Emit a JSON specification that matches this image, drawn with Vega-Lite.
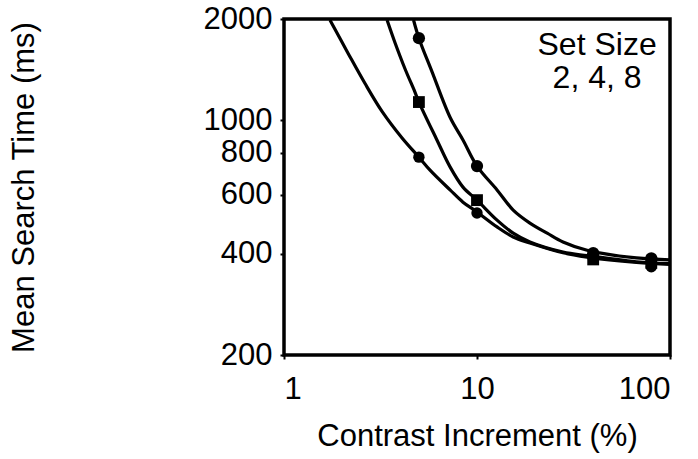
{
  "$schema": "https://vega.github.io/schema/vega-lite/v6.json",
  "autosize": {"type": "none"},
  "padding": {"left": 284, "top": 19, "right": 28, "bottom": 104},
  "width": 386,
  "height": 336,
  "background": "white",
  "config": {
    "view": {"stroke": "black", "strokeWidth": 3.5},
    "font": "Liberation Sans",
    "axis": {
      "domain": false,
      "grid": false,
      "tickColor": "black",
      "tickWidth": 2,
      "tickSize": 4,
      "labelFont": "Liberation Sans",
      "labelFontSize": 31,
      "labelColor": "black",
      "titleFont": "Liberation Sans",
      "titleFontSize": 31,
      "titleFontWeight": "normal",
      "titleColor": "black"
    }
  },
  "datasets": {
    "fit": [
      {"setSize": "2", "contrast": 1.73, "rt": 1986},
      {"setSize": "2", "contrast": 2.15, "rt": 1580},
      {"setSize": "2", "contrast": 2.63, "rt": 1285},
      {"setSize": "2", "contrast": 3.22, "rt": 1062},
      {"setSize": "2", "contrast": 4.09, "rt": 885},
      {"setSize": "2", "contrast": 5, "rt": 776},
      {"setSize": "2", "contrast": 5.71, "rt": 710},
      {"setSize": "2", "contrast": 7.25, "rt": 620},
      {"setSize": "2", "contrast": 8.46, "rt": 570},
      {"setSize": "2", "contrast": 10, "rt": 533},
      {"setSize": "2", "contrast": 12.7, "rt": 481},
      {"setSize": "2", "contrast": 15.4, "rt": 449},
      {"setSize": "2", "contrast": 18.8, "rt": 431},
      {"setSize": "2", "contrast": 27.9, "rt": 403},
      {"setSize": "2", "contrast": 37.2, "rt": 391},
      {"setSize": "2", "contrast": 67, "rt": 377},
      {"setSize": "2", "contrast": 100, "rt": 372},
      {"setSize": "4", "contrast": 3.42, "rt": 1986},
      {"setSize": "4", "contrast": 3.76, "rt": 1700},
      {"setSize": "4", "contrast": 4.24, "rt": 1420},
      {"setSize": "4", "contrast": 4.77, "rt": 1212},
      {"setSize": "4", "contrast": 5, "rt": 1132},
      {"setSize": "4", "contrast": 6.2, "rt": 873},
      {"setSize": "4", "contrast": 7.25, "rt": 726},
      {"setSize": "4", "contrast": 8.46, "rt": 632},
      {"setSize": "4", "contrast": 10, "rt": 578},
      {"setSize": "4", "contrast": 12.7, "rt": 504},
      {"setSize": "4", "contrast": 15.4, "rt": 461},
      {"setSize": "4", "contrast": 18.8, "rt": 434},
      {"setSize": "4", "contrast": 27.9, "rt": 405},
      {"setSize": "4", "contrast": 37.2, "rt": 395},
      {"setSize": "4", "contrast": 67, "rt": 379},
      {"setSize": "4", "contrast": 100, "rt": 374},
      {"setSize": "8", "contrast": 4.69, "rt": 1986},
      {"setSize": "8", "contrast": 5, "rt": 1754},
      {"setSize": "8", "contrast": 5.85, "rt": 1392},
      {"setSize": "8", "contrast": 7.25, "rt": 1020},
      {"setSize": "8", "contrast": 8.46, "rt": 873},
      {"setSize": "8", "contrast": 10, "rt": 730},
      {"setSize": "8", "contrast": 12.7, "rt": 620},
      {"setSize": "8", "contrast": 15.4, "rt": 540},
      {"setSize": "8", "contrast": 18.8, "rt": 494},
      {"setSize": "8", "contrast": 23.1, "rt": 461},
      {"setSize": "8", "contrast": 27.9, "rt": 434},
      {"setSize": "8", "contrast": 37.2, "rt": 410},
      {"setSize": "8", "contrast": 67, "rt": 389},
      {"setSize": "8", "contrast": 100, "rt": 384}
    ],
    "obs": [
      {"setSize": "2", "contrast": 5, "rt": 776},
      {"setSize": "2", "contrast": 10, "rt": 529},
      {"setSize": "2", "contrast": 40, "rt": 388},
      {"setSize": "2", "contrast": 80, "rt": 366},
      {"setSize": "4", "contrast": 5, "rt": 1132},
      {"setSize": "4", "contrast": 10, "rt": 578},
      {"setSize": "4", "contrast": 40, "rt": 385},
      {"setSize": "4", "contrast": 80, "rt": 376},
      {"setSize": "8", "contrast": 5, "rt": 1754},
      {"setSize": "8", "contrast": 10, "rt": 730},
      {"setSize": "8", "contrast": 40, "rt": 402},
      {"setSize": "8", "contrast": 80, "rt": 388}
    ],
    "note": [{"line1": "Set Size", "line2": "2, 4, 8"}]
  },
  "layer": [
    {
      "data": {"name": "fit"},
      "mark": {"type": "line", "color": "black", "strokeWidth": 3.2, "interpolate": "catmull-rom", "clip": true},
      "encoding": {
        "x": {
          "field": "contrast", "type": "quantitative",
          "scale": {"type": "log", "domain": [1, 100], "nice": false},
          "axis": {
            "orient": "bottom",
            "values": [1, 10, 100],
            "format": "d",
            "labelBaseline": "alphabetic",
            "labelPadding": 39,
            "title": "Contrast Increment (%)",
            "titleX": 193,
            "titleY": 90,
            "titleBaseline": "alphabetic",
            "titleAnchor": "middle"
          }
        },
        "y": {
          "field": "rt", "type": "quantitative",
          "scale": {"type": "log", "domain": [200, 2000], "nice": false},
          "axis": {
            "orient": "left",
            "values": [200, 400, 600, 800, 1000, 2000],
            "format": "d",
            "labelPadding": 8,
            "labelBaseline": "middle",
            "title": "Mean Search Time (ms)",
            "titleX": -251,
            "titleY": 168,
            "titleAngle": -90,
            "titleBaseline": "alphabetic",
            "titleAlign": "center"
          }
        },
        "detail": {"field": "setSize", "type": "nominal"}
      }
    },
    {
      "data": {"name": "obs"},
      "mark": {"type": "point", "filled": true, "color": "black", "opacity": 1},
      "encoding": {
        "x": {"field": "contrast", "type": "quantitative"},
        "y": {"field": "rt", "type": "quantitative"},
        "shape": {
          "field": "setSize", "type": "nominal",
          "scale": {"domain": ["2", "4", "8"], "range": ["circle", "square", "circle"]},
          "legend": null
        },
        "size": {
          "field": "setSize", "type": "nominal",
          "scale": {"domain": ["2", "4", "8"], "range": [130, 150, 90]},
          "legend": null
        }
      }
    },
    {
      "data": {"name": "note"},
      "mark": {"type": "text", "fontSize": 32, "font": "Liberation Sans", "align": "center", "baseline": "alphabetic", "color": "black"},
      "encoding": {
        "text": {"field": "line1"},
        "x": {"datum": 41.9, "type": "quantitative"},
        "y": {"datum": 1563, "type": "quantitative"}
      }
    },
    {
      "data": {"name": "note"},
      "mark": {"type": "text", "fontSize": 32, "font": "Liberation Sans", "align": "center", "baseline": "alphabetic", "color": "black"},
      "encoding": {
        "text": {"field": "line2"},
        "x": {"datum": 41.9, "type": "quantitative"},
        "y": {"datum": 1246, "type": "quantitative"}
      }
    }
  ]
}
